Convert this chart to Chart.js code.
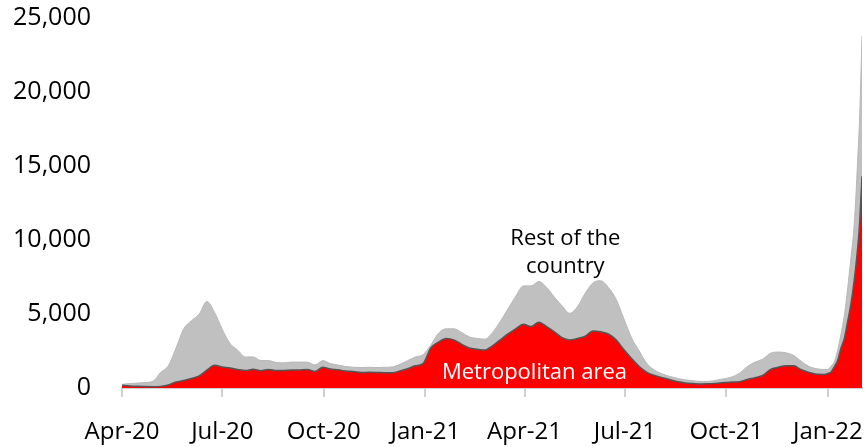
<!DOCTYPE html>
<html>
<head>
<meta charset="utf-8">
<script src="https://cdn.jsdelivr.net/npm/chart.js@4.4.0/dist/chart.umd.min.js"></script>
<style>
  html, body { margin: 0; padding: 0; background: #fff; }
  #chart { display: block; }
</style>
</head>
<body>
<canvas id="chart" width="868" height="447"></canvas>
<script>
// weekly points starting 2020-04-01, then a denser tail for the January 2022 spike
var weekStart = '2020-04-01';

var totalWeekly = [
  250, 300, 330, 370, 450, 1050, 1500, 2700, 4000, 4550, 5000, 5850, 5100, 3950,
  3000, 2550, 2100, 2100, 1850, 1850, 1720, 1700, 1750, 1750, 1750, 1550, 1850, 1650,
  1550, 1450, 1400, 1380, 1400, 1380, 1400, 1420, 1600, 1850, 2100, 2250, 2900, 3700,
  4000, 4000, 3750, 3450, 3350, 3300, 3750, 4500, 5350, 6200, 6900, 6900, 7200, 6800,
  6150, 5550, 5050, 5500, 6400, 7100, 7250, 6800, 6000, 4700, 3400, 2500, 1650, 1200,
  950, 780, 640, 550, 490, 440, 450, 530, 620, 750, 1000, 1450, 1750, 1950,
  2350, 2430, 2380, 2200, 1800, 1450, 1300, 1250
];
var metroWeekly = [
  180, 140, 110, 95, 90, 110, 200, 400, 500, 640, 820, 1200, 1530, 1420,
  1350, 1250, 1180, 1260, 1170, 1250, 1180, 1190, 1210, 1220, 1250, 1120, 1400, 1280,
  1230, 1150, 1110, 1050, 1060, 1050, 1030, 1030, 1150, 1300, 1500, 1650, 2700, 3100,
  3350, 3250, 2950, 2700, 2620, 2570, 2850, 3250, 3650, 4000, 4300, 4150, 4450, 4150,
  3800, 3400, 3250, 3350, 3500, 3850, 3800, 3650, 3250, 2600, 2000, 1450, 1050, 850,
  700, 560, 420, 340, 300, 270, 280, 320, 370, 400, 430, 580, 700, 850,
  1250, 1400, 1500, 1500, 1230, 1050, 930, 920
];

var tailDates = ['2022-01-01', '2022-01-04', '2022-01-07', '2022-01-10', '2022-01-13', '2022-01-16',
                 '2022-01-19', '2022-01-22', '2022-01-25', '2022-01-28', '2022-01-30', '2022-02-01'];
var totalTail = [1250, 1480, 1800, 2600, 3650, 4900, 6750, 8800, 11100, 15300, 18600, 23800];
var metroTail = [980, 1080, 1450, 1870, 2700, 3350, 4500, 5700, 7300, 9400, 11300, 14300];

var tickDates = ['2020-04-01', '2020-07-01', '2020-10-01', '2021-01-01',
                 '2021-04-01', '2021-07-01', '2021-10-01', '2022-01-01'];
var tickLabels = ['Apr-20', 'Jul-20', 'Oct-20', 'Jan-21', 'Apr-21', 'Jul-21', 'Oct-21', 'Jan-22'];
var yTicks = [0, 5000, 10000, 15000, 20000, 25000];

var RED = '#ff0000';
var GREY = '#c0c0c0';
var FONT = '"Open Sans", "Noto Sans", sans-serif';

function dayNo(s) {
  var p = s.split('-');
  var w = weekStart.split('-');
  return Math.round((Date.UTC(+p[0], p[1] - 1, +p[2]) - Date.UTC(+w[0], w[1] - 1, +w[2])) / 86400000);
}

function toPoints(weekly, tail) {
  var pts = weekly.map(function (v, i) { return { x: i * 7, y: v }; });
  tail.forEach(function (v, i) { pts.push({ x: dayNo(tailDates[i]), y: v }); });
  return pts;
}

var tickDays = tickDates.map(dayNo);
var lastDay = dayNo(tailDates[tailDates.length - 1]);

var notes = {
  id: 'notes',
  afterDatasetsDraw: function (chart) {
    var c = chart.ctx, xs = chart.scales.x, ys = chart.scales.y;
    c.save();
    c.font = '22px ' + FONT;
    c.textAlign = 'center';
    c.textBaseline = 'alphabetic';
    c.fillStyle = '#000';
    var rx = xs.getPixelForValue(402), ry = ys.getPixelForValue(9670);
    c.fillText('Rest of the', rx, ry);
    c.fillText('country', rx, ry + 28);
    c.fillStyle = '#fff';
    c.fillText('Metropolitan area', xs.getPixelForValue(374), ys.getPixelForValue(620));
    c.restore();
  }
};

new Chart(document.getElementById('chart').getContext('2d'), {
  type: 'line',
  data: {
    datasets: [
      {
        label: 'Metropolitan area',
        data: toPoints(metroWeekly, metroTail),
        backgroundColor: RED,
        borderColor: '#555555',
        borderWidth: 1.5,
        fill: 'origin',
        pointRadius: 0,
        cubicInterpolationMode: 'monotone'
      },
      {
        label: 'Rest of the country',
        data: toPoints(totalWeekly, totalTail),
        backgroundColor: GREY,
        borderColor: '#b8b8b8',
        borderWidth: 1,
        fill: 'origin',
        pointRadius: 0,
        cubicInterpolationMode: 'monotone'
      }
    ]
  },
  options: {
    responsive: false,
    animation: false,
    layout: { padding: { top: 18, right: 6, left: 0, bottom: 0 } },
    plugins: { legend: { display: false }, tooltip: { enabled: false } },
    scales: {
      x: {
        type: 'linear',
        min: 0,
        max: lastDay,
        afterBuildTicks: function (s) {
          s.ticks = tickDays.map(function (d) { return { value: d }; });
        },
        afterFit: function (s) {
          s.height = 59;
          s.paddingLeft = 0;
          s.paddingRight = 0;
        },
        grid: { display: true, drawOnChartArea: false, drawTicks: true, tickLength: 9, color: '#d0d0d0', lineWidth: 2 },
        border: { display: true, color: '#d0d0d0', width: 2 },
        ticks: {
          autoSkip: false,
          maxRotation: 0,
          padding: 21,
          color: '#000',
          font: { family: FONT, size: 24 },
          callback: function (v, i) { return tickLabels[i]; }
        }
      },
      y: {
        min: 0,
        max: 25000,
        afterBuildTicks: function (s) {
          s.ticks = yTicks.map(function (v) { return { value: v }; });
        },
        afterFit: function (s) {
          s.width = 122;
          s.paddingTop = 0;
          s.paddingBottom = 0;
        },
        grid: { display: false, drawTicks: false },
        border: { display: false },
        ticks: {
          padding: 31,
          color: '#000',
          font: { family: FONT, size: 25 },
          callback: function (v) { return v.toLocaleString('en-US'); }
        }
      }
    }
  },
  plugins: [notes]
});
</script>
</body>
</html>
